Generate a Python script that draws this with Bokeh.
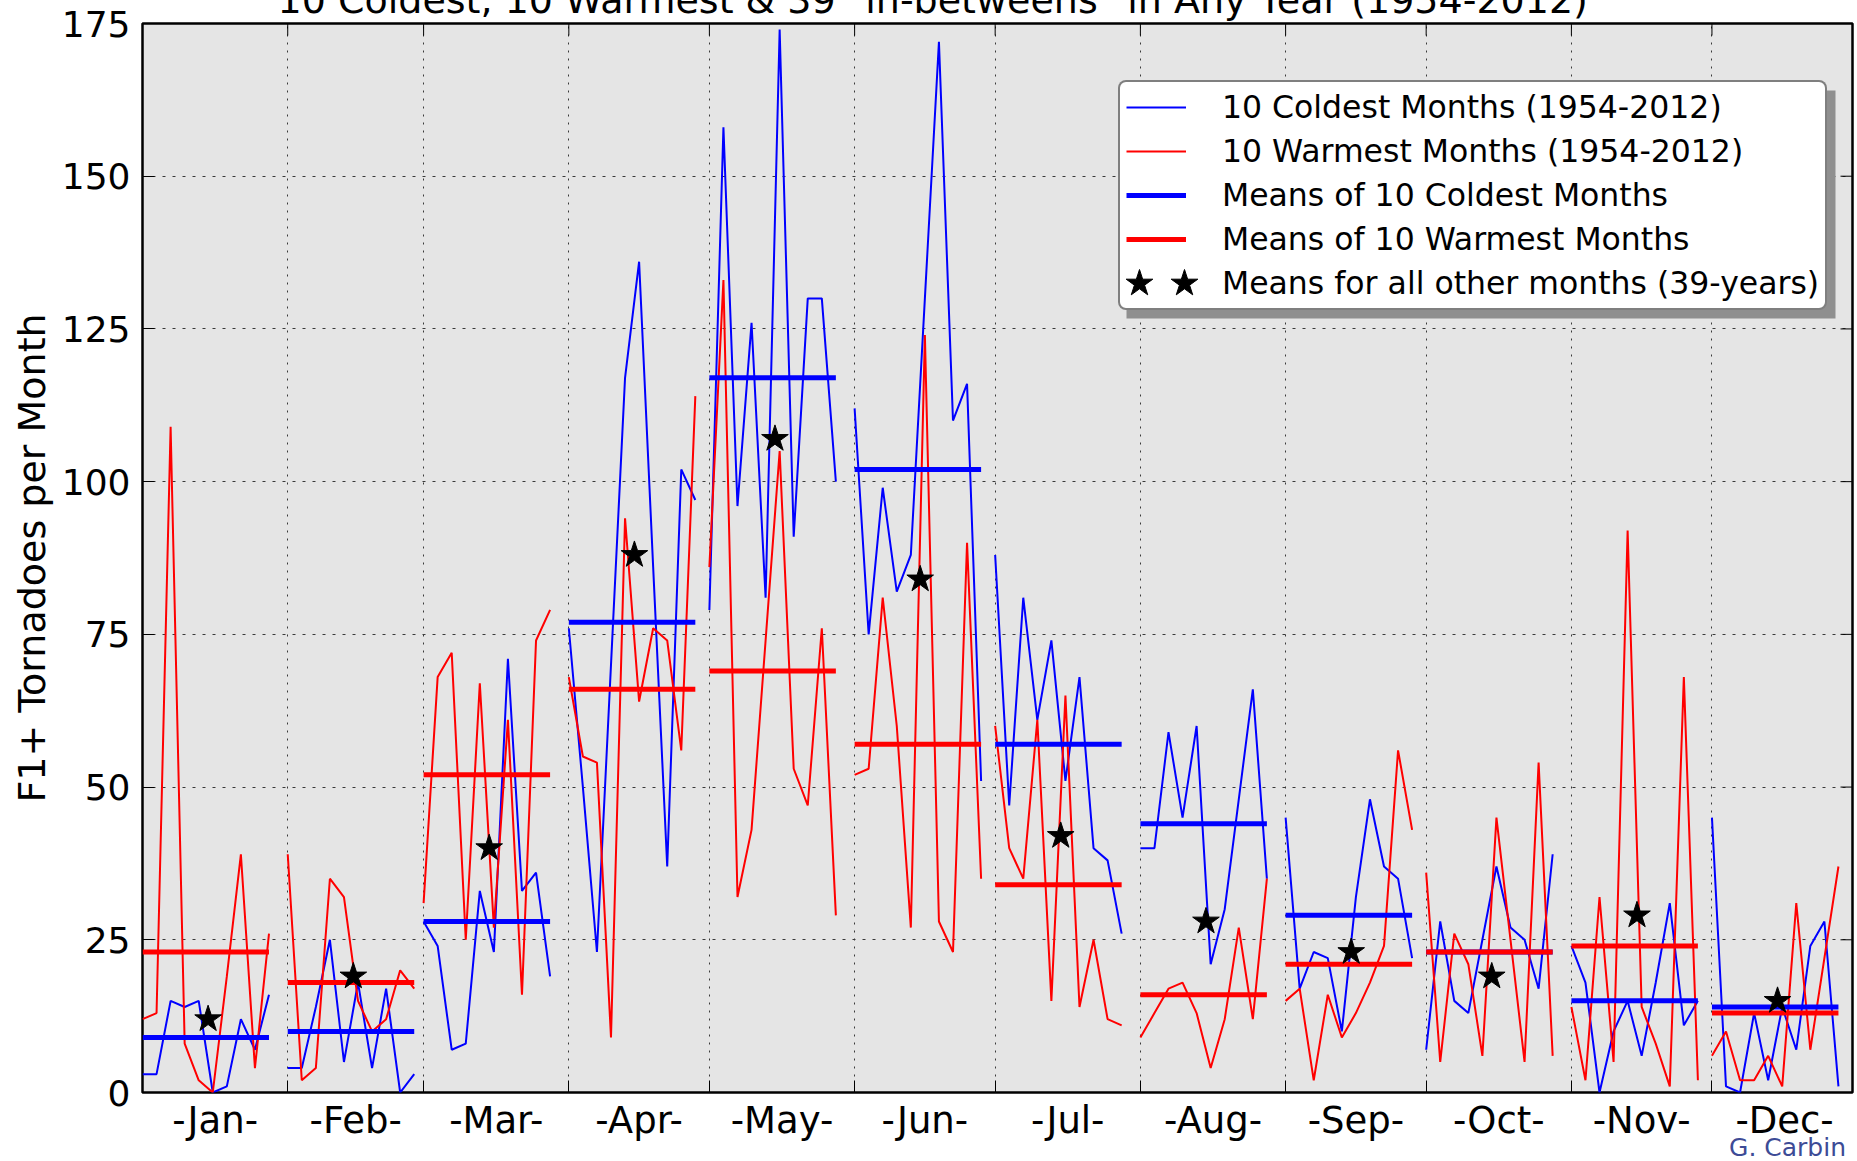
import numpy as np
from bokeh.plotting import figure
from bokeh.layouts import column
from bokeh.models import (FixedTicker, Legend, LegendItem, Div,
                          BoxAnnotation, Range1d, ColumnDataSource)
from bokeh.embed import file_html
from bokeh.resources import INLINE

# ---------------- data ----------------
month_labels = ["-Jan-", "-Feb-", "-Mar-", "-Apr-", "-May-", "-Jun-",
                "-Jul-", "-Aug-", "-Sep-", "-Oct-", "-Nov-", "-Dec-"]
month_days = [31, 29, 31, 30, 31, 30, 31, 31, 30, 31, 30, 31]

coldest_counts = [
    [3, 3, 15, 14, 15, 0, 1, 12, 7, 16],
    [4, 4, 14, 25, 5, 18, 4, 17, 0, 3],
    [28, 24, 7, 8, 33, 23, 71, 33, 36, 19],
    [76, 50, 23, 70, 117, 136, 86, 37, 102, 97],
    [79, 158, 96, 126, 81, 174, 91, 130, 130, 100],
    [112, 75, 99, 82, 88, 130, 172, 110, 116, 51],
    [88, 47, 81, 61, 74, 51, 68, 40, 38, 26],
    [40, 40, 59, 45, 60, 21, 30, 48, 66, 35],
    [45, 17, 23, 22, 10, 32, 48, 37, 35, 22],
    [7, 28, 15, 13, 25, 37, 27, 25, 17, 39],
    [24, 18, 0, 10, 15, 6, 18, 31, 11, 15],
    [45, 1, 0, 13, 2, 14, 7, 24, 28, 1],
]
warmest_counts = [
    [12, 13, 109, 8, 2, 0, 19, 39, 4, 26],
    [39, 2, 4, 35, 32, 15, 10, 12, 20, 17],
    [31, 68, 72, 25, 67, 27, 61, 16, 74, 79],
    [68, 55, 54, 9, 94, 64, 76, 74, 56, 114],
    [86, 133, 32, 43, 74, 105, 53, 47, 76, 29],
    [52, 53, 81, 60, 27, 124, 28, 23, 90, 35],
    [60, 40, 35, 61, 15, 65, 14, 25, 12, 11],
    [9, 13, 17, 18, 13, 4, 12, 27, 12, 35],
    [15, 17, 2, 16, 9, 13, 18, 24, 56, 43],
    [36, 5, 26, 21, 6, 45, 25, 5, 54, 6],
    [14, 2, 32, 5, 92, 14, 8, 1, 68, 2],
    [6, 10, 2, 2, 6, 1, 31, 7, 22, 37],
]
coldest_means = [9, 10, 28, 77, 117, 102, 57, 44, 29, 23, 15, 14]
warmest_means = [23, 18, 52, 66, 69, 57, 34, 16, 21, 23, 24, 13]
other_means = [12, 19, 40, 88, 107, 84, 42, 28, 23, 19, 29, 15]

y_ticks = [0, 25, 50, 75, 100, 125, 150, 175]

TITLE = '10 Coldest, 10 Warmest & 39 "in-betweens" in Any Year (1954-2012)'
CREDIT = "G. Carbin"

# ---------------- layout constants (page px) ----------------
W, H = 1857, 1161
FL, FR, FT, FB = 142, 1852, 23, 1092      # frame edges on the page
S = 37                                      # canvas part hidden above the page top
X_MAX, Y_MAX = 365, 175
YEAR_STEP = 3                               # day spacing of the 10 years
TICK = 12                                   # inward tick length, px
FONT = "DejaVu Sans"

month_starts = np.concatenate([[0], np.cumsum(month_days)[:-1]]).astype(float)
month_ends = month_starts + np.array(month_days)
centers = (month_starts + month_ends) / 2.0
boundaries = list(month_starts[1:])
offs = np.arange(10) * YEAR_STEP
span_end = month_starts + offs[-1]
star_x = month_starts + (offs[-1] + 1) / 2.0

def px2x(px):
    return (px - FL) * X_MAX / (FR - FL)

def px2y(py):
    return (FB - py) * Y_MAX / (FB - FT)

xs = [list(s + offs) for s in month_starts]

p = figure(width=W, height=H + S, x_range=Range1d(0, X_MAX), y_range=Range1d(0, Y_MAX),
           output_backend="svg", toolbar_location=None,
           min_border_left=FL, min_border_right=W - FR,
           min_border_top=FT + S, min_border_bottom=H - FB)
p.styles = {"margin-top": f"-{S}px"}
p.background_fill_color = "#e5e5e5"
p.border_fill_color = "white"
p.outline_line_color = "black"
p.outline_line_width = 2.5

# title (its upper part falls above the page, as in the original)
p.title.text = TITLE
p.title.text_font = FONT
p.title.text_font_size = "38px"
p.title.text_font_style = "normal"
p.title.text_color = "black"
p.title.align = "left"
p.title.offset = 277 - FL
p.title.standoff = 4

# grids
p.xgrid.ticker = FixedTicker(ticks=boundaries)
p.xgrid.grid_line_color = "#3a3a3a"
p.xgrid.grid_line_dash = "2 6"
p.xgrid.grid_line_width = 1
p.ygrid.ticker = FixedTicker(ticks=y_ticks[1:-1])
p.ygrid.grid_line_color = "#3a3a3a"
p.ygrid.grid_line_dash = "3 7"
p.ygrid.grid_line_width = 1

# axes
xa = p.xaxis[0]
xa.ticker = FixedTicker(ticks=list(centers), minor_ticks=boundaries)
xa.major_label_overrides = {float(c): lab for c, lab in zip(centers, month_labels)}
xa.major_tick_in = 0
xa.major_tick_out = 0
xa.minor_tick_in = TICK
xa.minor_tick_out = 0
xa.minor_tick_line_color = "black"
xa.axis_line_color = None
xa.major_label_text_font = FONT
xa.major_label_text_font_size = "37px"
xa.major_label_text_color = "black"
xa.major_label_standoff = 6

ya = p.yaxis[0]
ya.ticker = FixedTicker(ticks=y_ticks)
ya.major_tick_in = TICK
ya.major_tick_out = 0
ya.major_tick_line_color = "black"
ya.minor_tick_line_color = None
ya.axis_line_color = None
ya.major_label_text_font = FONT
ya.major_label_text_font_size = "36px"
ya.major_label_text_color = "black"
ya.major_label_standoff = 12
ya.axis_label = "F1+ Tornadoes per Month"
ya.axis_label_text_font = FONT
ya.axis_label_text_font_size = "38px"
ya.axis_label_text_font_style = "normal"
ya.axis_label_text_color = "black"
ya.axis_label_standoff = 5

# inward ticks on the right and top edges of the box
n_y = len(y_ticks)
p.segment(x0=[px2x(FR - TICK)] * n_y, x1=[X_MAX] * n_y, y0=y_ticks, y1=y_ticks,
          line_color="black", line_width=1)
n_b = len(boundaries)
p.segment(x0=boundaries, x1=boundaries, y0=[px2y(FT + TICK)] * n_b, y1=[Y_MAX] * n_b,
          line_color="black", line_width=1)

# series
src_c = ColumnDataSource(dict(xs=xs, ys=coldest_counts))
src_w = ColumnDataSource(dict(xs=xs, ys=warmest_counts))
r_c = p.multi_line(xs="xs", ys="ys", source=src_c, line_color="#0000ff", line_width=2)
r_w = p.multi_line(xs="xs", ys="ys", source=src_w, line_color="#ff0000", line_width=2)
r_cm = p.segment(x0=month_starts, x1=span_end, y0=coldest_means, y1=coldest_means,
                 line_color="#0000ff", line_width=5)
r_wm = p.segment(x0=month_starts, x1=span_end, y0=warmest_means, y1=warmest_means,
                 line_color="#ff0000", line_width=5)
r_s = p.scatter(x=star_x, y=other_means, marker="star", size=28,
                fill_color="black", line_color="black")

# legend (with shadow)
LEG_L, LEG_T, LEG_R, LEG_B = 1118, 82, 1827, 310
SH = 8
PAD, ROW_H, ROW_SP = 6, 38, 6
shadow = BoxAnnotation(left=px2x(LEG_L + SH), right=px2x(LEG_R + SH),
                       top=px2y(LEG_T + SH), bottom=px2y(LEG_B + SH),
                       fill_color="#8f8f8f", fill_alpha=1.0, line_color=None)
p.add_layout(shadow)

r_star_key = p.scatter(x=[], y=[], marker="star", size=1, fill_alpha=0, line_alpha=0)

legend = Legend(items=[
    LegendItem(label="10 Coldest Months (1954-2012)", renderers=[r_c]),
    LegendItem(label="10 Warmest Months (1954-2012)", renderers=[r_w]),
    LegendItem(label="Means of 10 Coldest Months", renderers=[r_cm]),
    LegendItem(label="Means of 10 Warmest Months", renderers=[r_wm]),
    LegendItem(label="Means for all other months (39-years)", renderers=[r_star_key]),
], location=(LEG_L - FL, FB - LEG_B))
legend.margin = 0
legend.padding = PAD
legend.spacing = ROW_SP
legend.glyph_width = 60
legend.glyph_height = ROW_H
legend.label_height = ROW_H
legend.label_standoff = 36
legend.label_text_font = FONT
legend.label_text_font_size = "31.5px"
legend.label_text_color = "black"
legend.border_line_color = "black"
legend.border_line_width = 2
legend.background_fill_color = "white"
legend.background_fill_alpha = 1.0
try:
    legend.border_radius = 8
except Exception:
    pass
p.add_layout(legend)

# two full-size star keys for the last legend row (matplotlib numpoints=2 look)
star_row_y = LEG_T + PAD + 4 * (ROW_H + ROW_SP) + ROW_H / 2
KEY = 70
for cx in (LEG_L + 21, LEG_L + 66):
    kl = Legend(items=[LegendItem(label="", renderers=[r_s])],
                location=(cx - KEY / 2 - FL, FB - (star_row_y + KEY / 2)))
    kl.margin = 0
    kl.padding = 0
    kl.glyph_width = KEY
    kl.glyph_height = KEY
    kl.label_height = KEY
    kl.label_width = 0
    kl.label_standoff = 0
    kl.background_fill_alpha = 0
    kl.border_line_color = None
    p.add_layout(kl)

# credit, bottom right under the plot
CR_W, CR_H, CR_PAD = 140, 30, 4
credit = Div(text=CREDIT, width=CR_W, height=CR_H,
             styles={"margin-top": f"-{CR_H}px", "margin-left": f"{1846 - CR_W}px",
                     "box-sizing": "border-box", "padding-top": f"{CR_PAD}px",
                     "text-align": "right", "color": "#3d4b96",
                     "font-family": FONT, "font-size": "25px",
                     "line-height": f"{CR_H - CR_PAD}px"})

layout = column(p, credit, spacing=0)
open("out.html", "w").write(file_html(layout, INLINE))
